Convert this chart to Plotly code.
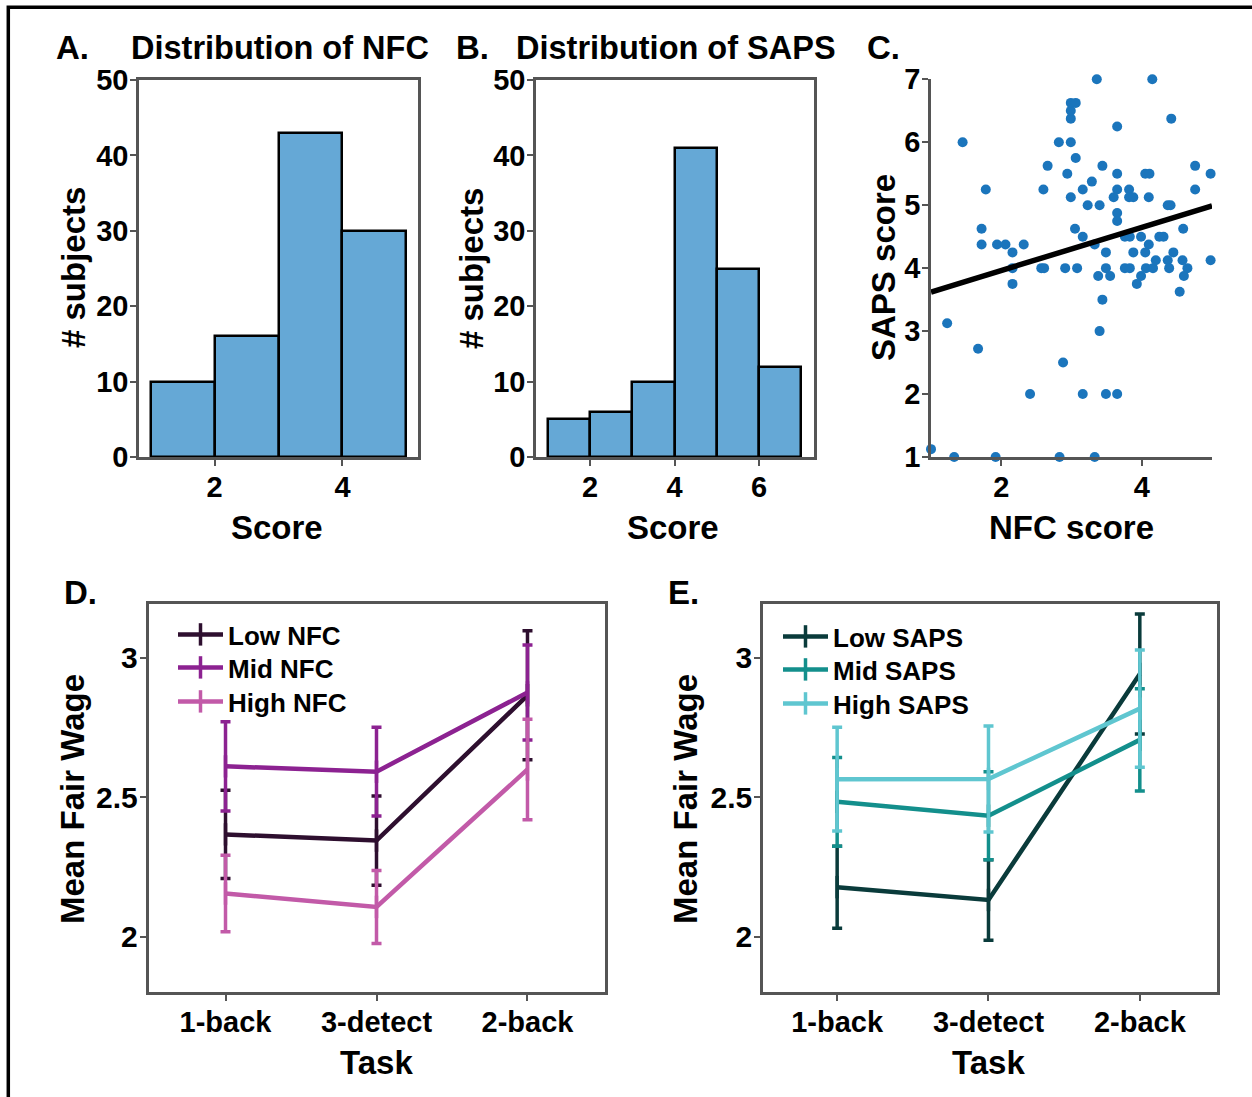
import plotly.graph_objects as go

W, H = 1252, 1097

# ---------------- data ----------------
nfc_bin_centers = [1.5, 2.5, 3.5, 4.5]
nfc_counts = [10, 16, 43, 30]
saps_bin_centers = [1.5, 2.5, 3.5, 4.5, 5.5, 6.5]
saps_counts = [5, 6, 10, 41, 25, 12]

nfc_scores = [1.0, 1.33, 1.92, 2.83, 3.33, 1.23, 1.45, 1.67, 1.78, 1.72, 1.72, 1.94, 2.06, 2.32,
              2.16, 2.16, 2.16, 2.41, 2.57, 2.61, 2.60, 2.66, 2.82, 2.94, 2.99, 2.99, 2.99, 2.99,
              3.06, 3.06, 2.99, 3.05, 2.91, 3.08, 2.88, 3.16, 3.16, 3.16, 3.23, 3.29, 3.36, 3.33,
              3.40, 3.44, 3.38, 3.49, 3.49, 3.55, 3.44, 3.40, 3.49, 3.65, 3.65, 3.65, 3.65, 3.60,
              3.65, 3.65, 3.76, 3.83, 3.82, 3.82, 3.88, 3.76, 3.83, 3.88, 3.99, 3.99, 3.93, 4.05,
              4.10, 4.05, 4.11, 4.10, 4.15, 4.06, 4.16, 4.20, 4.25, 4.31, 4.37, 4.41, 4.42, 4.37,
              4.39, 4.45, 4.59, 4.58, 4.65, 4.60, 4.54, 4.76, 4.76, 4.98, 4.98]
saps_scores = [1.125, 1.0, 1.0, 1.0, 1.0, 3.125, 6.0, 2.72, 5.25, 4.625, 4.375, 4.375, 4.375, 4.375,
               4.25, 4.0, 3.75, 2.0, 4.0, 4.0, 5.25, 5.625, 6.0, 5.5, 6.0, 6.375, 6.5, 6.625,
               6.625, 5.75, 5.125, 4.625, 4.0, 4.0, 2.5, 5.25, 4.5, 2.0, 5.0, 5.375, 7.0, 4.375,
               5.0, 5.625, 3.875, 4.25, 4.0, 3.875, 3.5, 3.0, 2.0, 2.0, 6.25, 5.5, 5.25, 5.125,
               4.875, 4.75, 4.5, 4.5, 5.25, 5.125, 5.125, 4.0, 4.0, 4.25, 4.5, 3.875, 3.75, 4.25,
               4.375, 5.5, 5.5, 5.125, 7.0, 4.0, 4.0, 4.125, 4.5, 4.5, 5.0, 5.0, 6.375, 4.125,
               4.0, 4.25, 4.625, 4.125, 4.0, 3.875, 3.625, 5.625, 5.25, 5.5, 4.125]
fit_x = [1.0, 5.0]
fit_y = [3.62, 4.99]

tasks = ["1-back", "3-detect", "2-back"]

nfc_groups = ["Low NFC", "Mid NFC", "High NFC"]
nfc_means = [[2.367, 2.345, 2.866], [2.611, 2.592, 2.876], [2.155, 2.107, 2.600]]
nfc_errs = [[0.158, 0.160, 0.231], [0.160, 0.159, 0.170], [0.137, 0.131, 0.180]]
nfc_colors = ["#2e0f2f", "#8c2291", "#c25aa8"]

saps_groups = ["Low SAPS", "Mid SAPS", "High SAPS"]
saps_means = [[2.178, 2.132, 2.942], [2.484, 2.434, 2.706], [2.565, 2.566, 2.818]]
saps_errs = [[0.147, 0.144, 0.215], [0.159, 0.158, 0.183], [0.186, 0.190, 0.210]]
saps_colors = ["#0a3b3b", "#138f8c", "#5fc6d0"]

# ---------------- helpers ----------------
FONT = "Liberation Sans, Arial, Helvetica, sans-serif"


def px(x):
    return x / W


def py(y):
    return 1 - y / H


AX_GREY = "#555555"
TICKFONT = dict(family=FONT, size=29, color="black", weight="bold")
TICKFONT_SM = dict(family=FONT, size=30, color="black", weight="bold")
LEGFONT = dict(family=FONT, size=26, color="black", weight="bold")

fig = go.Figure()

# ---- A: NFC histogram ----
fig.add_trace(go.Bar(x=nfc_bin_centers, y=nfc_counts, width=1,
                     marker=dict(color="#65a8d6", line=dict(color="black", width=2.5)),
                     xaxis="x", yaxis="y", showlegend=False))
# ---- B: SAPS histogram ----
fig.add_trace(go.Bar(x=saps_bin_centers, y=saps_counts, width=1,
                     marker=dict(color="#65a8d6", line=dict(color="black", width=2.5)),
                     xaxis="x2", yaxis="y2", showlegend=False))
# ---- C: scatter ----
fig.add_trace(go.Scatter(x=nfc_scores, y=saps_scores, mode="markers",
                         marker=dict(color="#1b75bc", size=10),
                         cliponaxis=False, xaxis="x3", yaxis="y3", showlegend=False))
fig.add_trace(go.Scatter(x=fit_x, y=fit_y, mode="lines",
                         line=dict(color="black", width=5.5),
                         xaxis="x3", yaxis="y3", showlegend=False))

# legend rows (centre y in px) for panels D and E
leg_rows_d = [636, 669, 703]
leg_rows_e = [638, 671, 705]
legend_layouts = {}

# ---- D ----
for i, (name, m, e, c) in enumerate(zip(nfc_groups, nfc_means, nfc_errs, nfc_colors)):
    lg = "legend" if i == 0 else f"legend{i + 1}"
    fig.add_trace(go.Scatter(x=[0, 1, 2], y=m, mode="lines+markers", name=name,
                             line=dict(color=c, width=4.5),
                             marker=dict(symbol="line-ns", size=16, color=c,
                                         line=dict(width=3.5, color=c)),
                             error_y=dict(type="data", array=e, color=c, thickness=3.5, width=5),
                             xaxis="x4", yaxis="y4", legend=lg))
    legend_layouts[lg] = dict(x=px(173), y=py(leg_rows_d[i] - 25), xanchor="left", yanchor="top",
                              itemwidth=45, bgcolor="rgba(0,0,0,0)", borderwidth=0, font=LEGFONT)
# ---- E ----
for i, (name, m, e, c) in enumerate(zip(saps_groups, saps_means, saps_errs, saps_colors)):
    lg = f"legend{i + 4}"
    fig.add_trace(go.Scatter(x=[0, 1, 2], y=m, mode="lines+markers", name=name,
                             line=dict(color=c, width=4.5),
                             marker=dict(symbol="line-ns", size=16, color=c,
                                         line=dict(width=3.5, color=c)),
                             error_y=dict(type="data", array=e, color=c, thickness=3.5, width=5),
                             xaxis="x5", yaxis="y5", legend=lg))
    legend_layouts[lg] = dict(x=px(778), y=py(leg_rows_e[i] - 25), xanchor="left", yanchor="top",
                              itemwidth=45, bgcolor="rgba(0,0,0,0)", borderwidth=0, font=LEGFONT)


def frame_axis(dom, rng, tickvals, ticktext=None, anchor=None, mirror=True, font=TICKFONT):
    d = dict(domain=dom, range=rng, tickvals=tickvals, showgrid=False, zeroline=False,
             showline=True, linecolor=AX_GREY, linewidth=2.5, mirror=mirror,
             ticks="outside", ticklen=6, tickwidth=2, tickcolor=AX_GREY,
             ticklabelstandoff=-4,
             tickfont=font, anchor=anchor, fixedrange=True, automargin=False)
    if ticktext is not None:
        d["ticktext"] = ticktext
    return d


top_y = [py(457), py(80)]
bot_y = [py(992), py(603.5)]

fig.update_layout(
    width=W, height=H,
    margin=dict(l=0, r=0, t=0, b=0, pad=0, autoexpand=False),
    paper_bgcolor="white", plot_bgcolor="white",
    bargap=0,
    xaxis=frame_axis([px(139), px(418)], [0.82, 5.18], [2, 4], anchor="y"),
    yaxis=frame_axis(top_y, [0, 50], [0, 10, 20, 30, 40, 50], anchor="x"),
    xaxis2=frame_axis([px(536), px(814)], [0.72, 7.3], [2, 4, 6], anchor="y2"),
    yaxis2=frame_axis(top_y, [0, 50], [0, 10, 20, 30, 40, 50], anchor="x2"),
    xaxis3=frame_axis([px(931), px(1212)], [1, 5], [2, 4], anchor="y3", mirror=False),
    yaxis3=frame_axis([py(457), py(79.3)], [1, 7], [1, 2, 3, 4, 5, 6, 7], anchor="x3", mirror=False),
    xaxis4=frame_axis([px(148.5), px(604.5)], [-0.51, 2.51], [0, 1, 2], tasks, anchor="y4"),
    yaxis4=frame_axis(bot_y, [1.802, 3.195], [2, 2.5, 3], ["2", "2.5", "3"], anchor="x4",
                      font=TICKFONT_SM),
    xaxis5=frame_axis([px(763), px(1217)], [-0.49, 2.51], [0, 1, 2], tasks, anchor="y5"),
    yaxis5=frame_axis(bot_y, [1.802, 3.195], [2, 2.5, 3], ["2", "2.5", "3"], anchor="x5",
                      font=TICKFONT_SM),
    **legend_layouts,
)


def ann(text, x, y, size=33, xanchor="center", angle=0):
    fig.add_annotation(text=text, x=px(x), y=py(y), xref="paper", yref="paper",
                       xanchor=xanchor, yanchor="middle", showarrow=False, textangle=angle,
                       font=dict(family=FONT, size=size, color="black", weight="bold"))


# panel letters / titles
ann("A.", 54, 47, size=33, xanchor="left")
ann("Distribution of NFC", 129, 48, size=32.5, xanchor="left")
ann("B.", 454, 47, size=33, xanchor="left")
ann("Distribution of SAPS", 514, 48, size=32.5, xanchor="left")
ann("C.", 865, 47, size=33, xanchor="left")
ann("D.", 62, 592, size=33, xanchor="left")
ann("E.", 666, 592, size=33, xanchor="left")

# axis titles
ann("# subjects", 73, 268, angle=-90)
ann("Score", 277, 527)
ann("# subjects", 471, 268, angle=-90)
ann("Score", 673, 527)
ann("SAPS score", 883, 268, angle=-90)
ann("NFC score", 1071, 527)
ann("Mean Fair Wage", 72, 799, angle=-90)
ann("Task", 376, 1062)
ann("Mean Fair Wage", 685, 799, angle=-90)
ann("Task", 988, 1062)

# outer border (top and left edges visible)
fig.add_shape(type="rect", xref="paper", yref="paper",
              x0=px(8.3), x1=1.02, y0=-0.02, y1=py(7.3),
              line=dict(color="black", width=3.5), fillcolor="rgba(0,0,0,0)")

fig.write_html("out.html")
